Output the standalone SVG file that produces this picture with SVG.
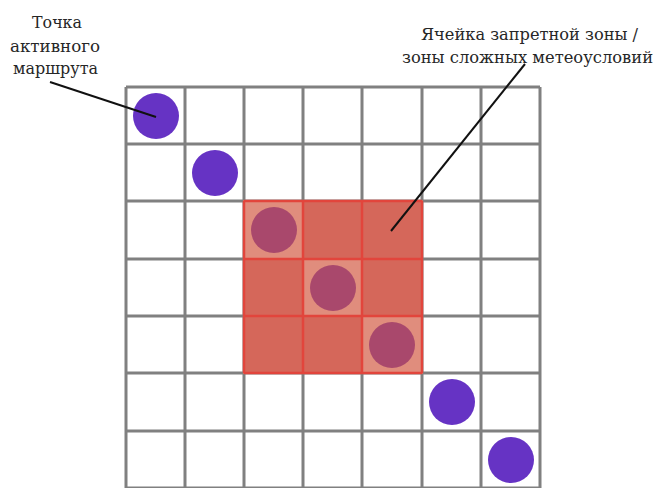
<svg xmlns="http://www.w3.org/2000/svg" width="660" height="488" viewBox="0 0 660 488">
<style>
.g{stroke:#808080;stroke-width:3;fill:none}
.r{stroke:#e2453c;stroke-width:2.5;fill:none}
.pt{fill:#6633c4}
.pz{fill:#a9486c}
.t{font-family:'DejaVu Serif',serif;font-size:16px;fill:#262626;text-anchor:middle}
.ld{stroke:#111;stroke-width:2;fill:none}
</style>
<rect width="660" height="488" fill="#fff"/>
<g id="grid" class="g">
<path d="M126,87V488M185,87V488M244,87V488M303,87V488M362,87V488M422,87V488M481,87V488M540,87V488"/>
<path d="M126,87H540M126,144H540M126,201H540M126,259H540M126,316H540M126,373H540M126,431H540M126,488H540"/>
</g>
<g id="zone">
<rect x="243" y="200" width="180" height="174" fill="#d5675a"/>
<rect x="244" y="201" width="59" height="58" fill="#e08d7d"/>
<rect x="303" y="259" width="59" height="57" fill="#e08d7d"/>
<rect x="362" y="316" width="60" height="57" fill="#e08d7d"/>
<path class="r" d="M244,201V373M303,201V373M362,201V373M422,201V373M244,201H422M244,259H422M244,316H422M244,373H422"/>
</g>
<g id="points">
<circle id="p1" class="pt" cx="156" cy="116" r="23"/>
<circle id="p2" class="pt" cx="215" cy="173" r="23"/>
<circle id="p3" class="pz" cx="274" cy="230" r="23"/>
<circle id="p4" class="pz" cx="333" cy="288" r="23"/>
<circle id="p5" class="pz" cx="392" cy="345" r="23"/>
<circle id="p6" class="pt" cx="452" cy="402" r="23"/>
<circle id="p7" class="pt" cx="511" cy="460" r="23"/>
</g>
<g id="connectors">
<line class="ld" x1="50" y1="82" x2="156" y2="117"/>
<line class="ld" x1="525" y1="64" x2="391" y2="231"/>
</g>
<g id="label-route">
<text class="t" x="57" y="28" textLength="50" lengthAdjust="spacingAndGlyphs">Точка</text>
<text class="t" x="55" y="52" textLength="90" lengthAdjust="spacingAndGlyphs">активного</text>
<text class="t" x="55.5" y="74" textLength="85" lengthAdjust="spacingAndGlyphs">маршрута</text>
</g>
<g id="label-zone">
<text class="t" x="529.5" y="40" textLength="217" lengthAdjust="spacingAndGlyphs">Ячейка запретной зоны /</text>
<text class="t" x="527.5" y="63" textLength="251" lengthAdjust="spacingAndGlyphs">зоны сложных метеоусловий</text>
</g>
</svg>
